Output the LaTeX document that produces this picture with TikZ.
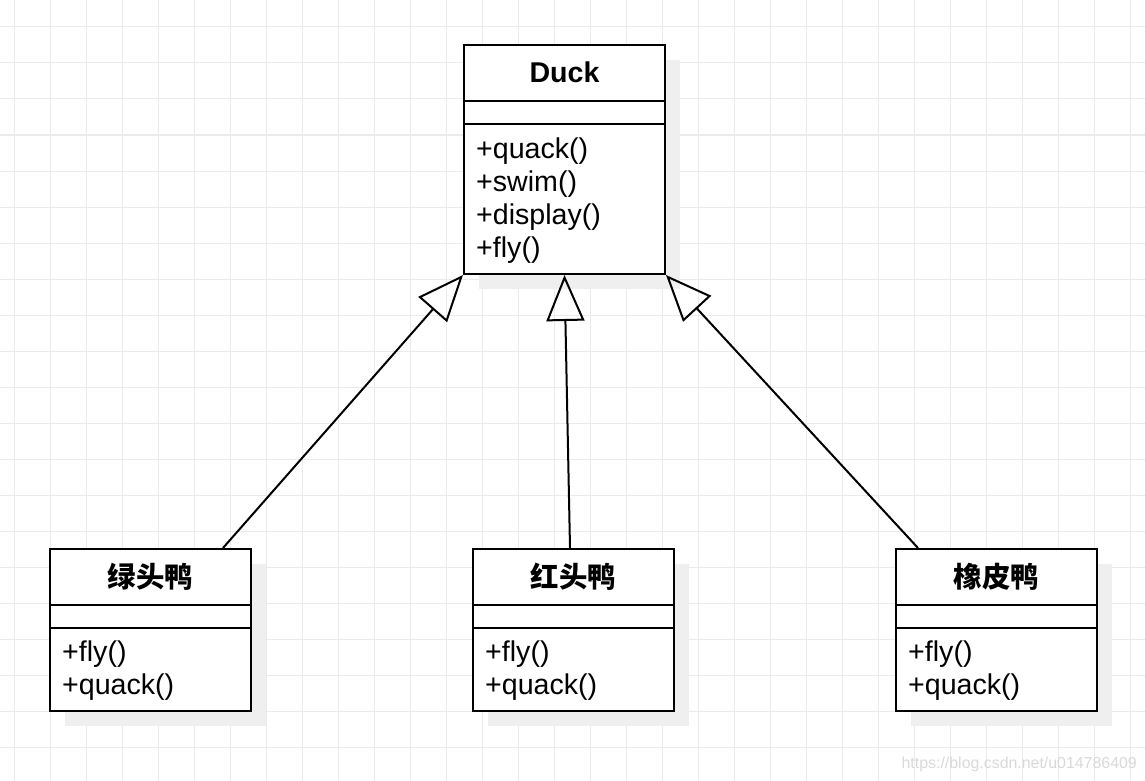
\documentclass[tikz,border=0pt]{standalone}
\usepackage{fontspec}
\setmainfont{Liberation Sans}
\newfontfamily\cjk{Noto Sans CJK SC}
\usetikzlibrary{arrows.meta,shadows}
\definecolor{gridgray}{HTML}{EBEBEB}
\definecolor{shadowgray}{HTML}{EFEFEF}
\definecolor{markgray}{HTML}{D9D9D9}

\begin{document}
\begin{tikzpicture}[x=1pt, y=-1pt,
  gridline/.style={draw=gridgray, line width=1pt},
  classbox/.style={draw=black, line width=2pt, fill=white, minimum width=201pt, inner sep=0pt,
    general shadow={fill=shadowgray, draw=none, shadow xshift=15pt, shadow yshift=-15pt}},
  divider/.style={draw=black, line width=2pt},
  classname/.style={font=\bfseries\fontsize{28.6}{34}\selectfont, anchor=base, inner sep=0pt},
  cjkname/.style={font=\cjk\bfseries\fontsize{28.4}{34}\selectfont, anchor=base, inner sep=0pt},
  method/.style={font=\fontsize{28.6}{33}\selectfont, anchor=base west, inner sep=0pt},
  inherit/.style={line width=2pt, -{Triangle[open, length=46pt, width=38pt]}}]
\fill[white] (0,0) rectangle (1145,781);
\useasboundingbox (0,0) rectangle (1145,781);
% background grid
\foreach \gx in {14,50,...,1130} \draw[gridline] (\gx,0) -- (\gx,781);
\foreach \gy in {27,63,...,747} \draw[gridline] (0,\gy) -- (1145,\gy);

% parent class
\node[classbox, minimum height=229pt] (duck) at (564.5,159.5) {};
\draw[divider] ([yshift=-57pt]duck.north west) -- ([yshift=-57pt]duck.north east);
\draw[divider] ([yshift=-80pt]duck.north west) -- ([yshift=-80pt]duck.north east);
\node[classname] (duckname) at (564.5,83) {Duck};
\foreach \m [count=\i] in {quack,swim,display,fly}
  \node[method] (duckop\i) at (476,{125+33*\i}) {+\m()};

% subclasses
\foreach \cname/\cx/\ctitle in {mallard/150.5/绿头鸭, redhead/573.5/红头鸭, rubber/996.5/橡皮鸭} {
  \node[classbox, minimum height=162pt] (\cname) at (\cx,630) {};
  \draw[divider] ([yshift=-57pt]\cname.north west) -- ([yshift=-57pt]\cname.north east);
  \draw[divider] ([yshift=-80pt]\cname.north west) -- ([yshift=-80pt]\cname.north east);
  \node[cjkname] (\cname title) at (\cx,587) {\ctitle};
  \node[method] (\cname fly) at ({\cx-88.5},661) {+fly()};
  \node[method] (\cname quack) at ({\cx-88.5},694) {+quack()};
}

% generalization
\draw[inherit] ([xshift=72.5pt]mallard.north) -- (duck.south west);
\draw[inherit] ([xshift=-3.5pt]redhead.north) -- (duck.south);
\draw[inherit] ([xshift=-78.5pt]rubber.north) -- (duck.south east);

\node[font=\fontsize{15.9}{18}\selectfont, text=markgray, anchor=base east, inner sep=0pt] (watermark) at (1137,768) {https://blog.csdn.net/u014786409};
\end{tikzpicture}
\end{document}
